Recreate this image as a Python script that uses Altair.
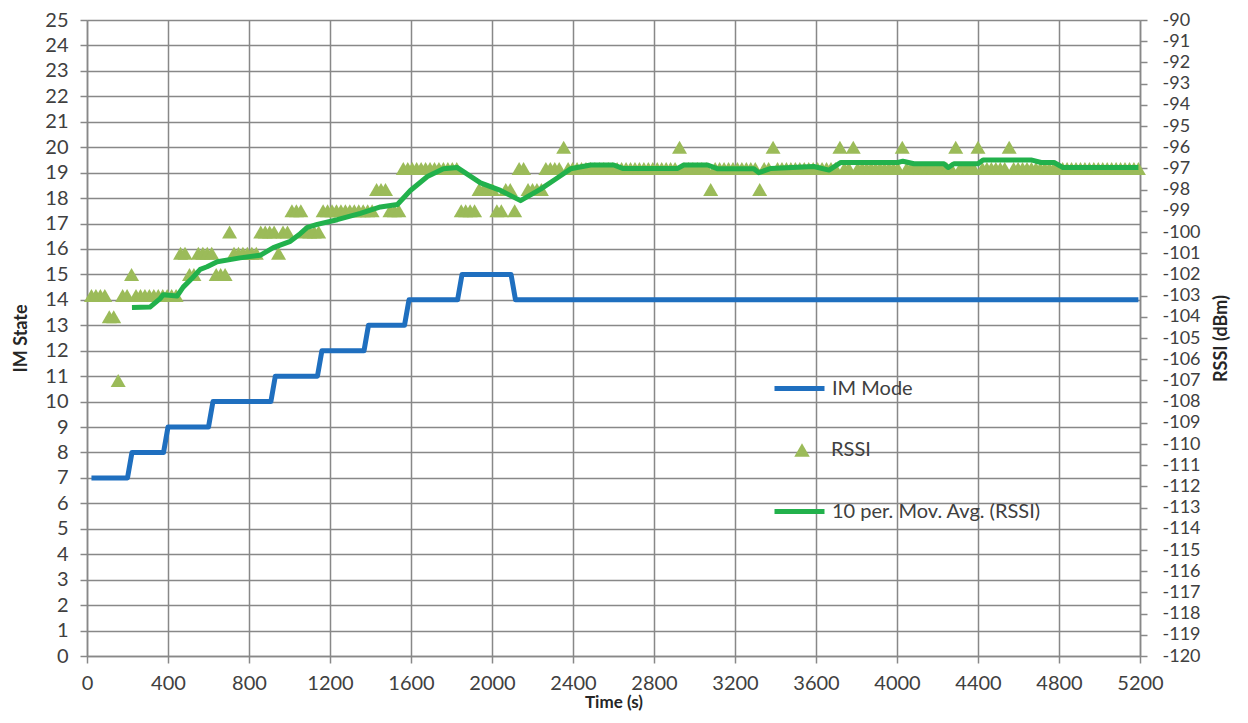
import altair as alt
import pandas as pd

# ---------------- data ----------------
sample_time_s = [
    22, 44, 66, 88, 110, 132, 154, 176, 198, 220,
    242, 264, 286, 308, 330, 352, 374, 396, 418, 440,
    462, 484, 506, 528, 550, 572, 594, 616, 638, 660,
    682, 704, 726, 748, 770, 792, 814, 836, 858, 880,
    902, 924, 946, 968, 990, 1012, 1034, 1056, 1078, 1100,
    1122, 1144, 1166, 1188, 1210, 1232, 1254, 1276, 1298, 1320,
    1342, 1364, 1386, 1408, 1430, 1452, 1474, 1496, 1518, 1540,
    1562, 1584, 1606, 1628, 1650, 1672, 1694, 1716, 1738, 1760,
    1782, 1804, 1826, 1848, 1870, 1892, 1914, 1936, 1958, 1980,
    2002, 2024, 2046, 2068, 2090, 2112, 2134, 2156, 2178, 2200,
    2222, 2244, 2266, 2288, 2310, 2332, 2354, 2376, 2398, 2420,
    2442, 2464, 2486, 2508, 2530, 2552, 2574, 2596, 2618, 2640,
    2662, 2684, 2706, 2728, 2750, 2772, 2794, 2816, 2838, 2860,
    2882, 2904, 2926, 2948, 2970, 2992, 3014, 3036, 3058, 3080,
    3102, 3124, 3146, 3168, 3190, 3212, 3234, 3256, 3278, 3300,
    3322, 3344, 3366, 3388, 3410, 3432, 3454, 3476, 3498, 3520,
    3542, 3564, 3586, 3608, 3630, 3652, 3674, 3696, 3718, 3740,
    3762, 3784, 3806, 3828, 3850, 3872, 3894, 3916, 3938, 3960,
    3982, 4004, 4026, 4048, 4070, 4092, 4114, 4136, 4158, 4180,
    4202, 4224, 4246, 4268, 4290, 4312, 4334, 4356, 4378, 4400,
    4422, 4444, 4466, 4488, 4510, 4532, 4554, 4576, 4598, 4620,
    4642, 4664, 4686, 4708, 4730, 4752, 4774, 4796, 4818, 4840,
    4862, 4884, 4906, 4928, 4950, 4972, 4994, 5016, 5038, 5060,
    5082, 5104, 5126, 5148, 5170, 5192,
]

rssi_dbm = [
    -103, -103, -103, -103, -104, -104, -107, -103, -103, -102,
    -103, -103, -103, -103, -103, -103, -103, -103, -103, -103,
    -101, -101, -102, -102, -101, -101, -101, -101, -102, -102,
    -102, -100, -101, -101, -101, -101, -101, -101, -100, -100,
    -100, -100, -101, -100, -100, -99, -99, -99, -100, -100,
    -100, -100, -99, -99, -99, -99, -99, -99, -99, -99,
    -99, -99, -99, -99, -98, -98, -98, -99, -99, -99,
    -97, -97, -97, -97, -97, -97, -97, -97, -97, -97,
    -97, -97, -97, -99, -99, -99, -99, -98, -98, -98,
    -98, -99, -99, -98, -98, -99, -97, -97, -98, -98,
    -98, -98, -97, -97, -97, -97, -96, -97, -97, -97,
    -97, -97, -97, -97, -97, -97, -97, -97, -97, -97,
    -97, -97, -97, -97, -97, -97, -97, -97, -97, -97,
    -97, -97, -96, -97, -97, -97, -97, -97, -97, -98,
    -97, -97, -97, -97, -97, -97, -97, -97, -97, -97,
    -98, -97, -97, -96, -97, -97, -97, -97, -97, -97,
    -97, -97, -97, -97, -97, -97, -97, -97, -96, -97,
    -97, -96, -97, -97, -97, -97, -97, -97, -97, -97,
    -97, -97, -96, -97, -97, -97, -97, -97, -97, -97,
    -97, -97, -97, -97, -96, -97, -97, -97, -97, -96,
    -97, -97, -97, -97, -97, -97, -96, -97, -97, -97,
    -97, -97, -97, -97, -97, -97, -97, -97, -97, -97,
    -97, -97, -97, -97, -97, -97, -97, -97, -97, -97,
    -97, -97, -97, -97, -97, -97,
]

im_time_s = [22, 200, 222, 378, 400, 600, 622, 908, 930, 1138, 1160, 1368,
             1390, 1568, 1590, 1830, 1852, 2094, 2116, 5192]
im_state = [7, 7, 8, 8, 9, 9, 10, 10, 11, 11, 12, 12,
            13, 13, 14, 14, 15, 15, 14, 14]

ma_time_s = [222, 311, 361, 376, 445, 475, 519, 559, 593, 643,
             756, 855, 920, 1004, 1053, 1088, 1137, 1236, 1350, 1449,
             1533, 1597, 1681, 1760, 1829, 1943, 2042, 2141, 2240, 2324,
             2388, 2487, 2601, 2645, 2917, 2947, 3065, 3115, 3293, 3317,
             3377, 3589, 3664, 3723, 4005, 4029, 4084, 4232, 4252, 4281,
             4400, 4425, 4662, 4712, 4776, 4820, 5192]
ma_dbm = [-103.56, -103.54, -103.14, -102.96, -103.02, -102.6, -102.18, -101.76, -101.64, -101.4,
          -101.22, -101.1, -100.74, -100.44, -100.08, -99.78, -99.64, -99.42, -99.12, -98.82,
          -98.7, -98.04, -97.38, -97.02, -96.96, -97.68, -98.04, -98.52, -97.98, -97.44,
          -97.02, -96.84, -96.84, -97.0, -97.0, -96.84, -96.84, -97.02, -97.02, -97.2,
          -97.0, -96.91, -97.08, -96.72, -96.72, -96.66, -96.78, -96.78, -96.96, -96.78,
          -96.78, -96.6, -96.6, -96.72, -96.72, -96.96, -96.96]

time_ticks = [0, 400, 800, 1200, 1600, 2000, 2400, 2800, 3200, 3600, 4000, 4400, 4800, 5200]
state_ticks = [0, 1, 2, 3, 4, 5, 6, 7, 8, 9, 10, 11, 12, 13, 14, 15, 16, 17, 18, 19, 20,
               21, 22, 23, 24, 25]
rssi_ticks = [-120, -119, -118, -117, -116, -115, -114, -113, -112, -111, -110, -109,
              -108, -107, -106, -105, -104, -103, -102, -101, -100, -99, -98, -97, -96,
              -95, -94, -93, -92, -91, -90]

series_names = ["IM Mode", "RSSI", "10 per. Mov. Avg. (RSSI)"]
series_colors = ["#1F6FBF", "#9BBB59", "#22B14C"]

# ---------------- tables ----------------
im_df = pd.DataFrame({"time": im_time_s, "state": im_state, "series": series_names[0]})
rssi_df = pd.DataFrame({"time": sample_time_s, "rssi": rssi_dbm, "series": series_names[1]})
ma_df = pd.DataFrame({"time": ma_time_s, "rssi": ma_dbm, "series": series_names[2]})

FONT = "Lato"
LABEL_C = "#404040"
TITLE_C = "#262626"
GRID_C = "#888888"
LBL = 20
RLBL = 18
TTL = 18


def line_legend(y):
    return alt.Legend(title=None, orient="none", legendX=685, legendY=y,
                      symbolType="stroke", symbolSize=2500, symbolStrokeWidth=5,
                      labelFont=FONT, labelFontSize=LBL, labelColor=LABEL_C,
                      labelOffset=5, padding=0, labelLimit=400)


x_enc = alt.X("time:Q",
              scale=alt.Scale(domain=[0, 5200], nice=False, zero=False),
              axis=alt.Axis(values=time_ticks, format="d", title="Time (s)", grid=True,
                            gridColor=GRID_C, gridWidth=1.5,
                            domainColor=GRID_C, domainWidth=1.5,
                            tickColor=GRID_C, tickWidth=1.5, tickSize=7,
                            labelFont=FONT, labelFontSize=LBL, labelColor=LABEL_C,
                            labelPadding=10, labelFlush=False, labelOverlap=False,
                            titleFont=FONT, titleFontSize=17, titleFontWeight="bold",
                            titleColor=TITLE_C, titlePadding=1))

right_axis = alt.Axis(orient="right", values=rssi_ticks, title="RSSI (dBm)", grid=False,
                      labelExpr="'' + datum.value",
                      domainColor=GRID_C, domainWidth=1.5,
                      tickColor=GRID_C, tickWidth=1.5, tickSize=7,
                      labelFont=FONT, labelFontSize=RLBL, labelColor=LABEL_C,
                      labelPadding=15, labelFlush=False, labelOverlap=False,
                      titleFont=FONT, titleFontSize=TTL, titleFontWeight="bold",
                      titleColor=TITLE_C, titlePadding=12, titleAngle=270,
                      titleBaseline="top")
right_scale = alt.Scale(domain=[-120, -90], nice=False, zero=False)

im_line = alt.Chart(im_df).mark_line(strokeWidth=5, strokeJoin="round").encode(
    x=x_enc,
    y=alt.Y("state:Q", scale=alt.Scale(domain=[0, 25], nice=False),
            axis=alt.Axis(values=state_ticks, title="IM State", grid=True,
                          gridColor=GRID_C, gridWidth=1.5,
                          domainColor=GRID_C, domainWidth=1.5,
                          tickColor=GRID_C, tickWidth=1.5, tickSize=7,
                          labelFont=FONT, labelFontSize=LBL, labelColor=LABEL_C,
                          labelPadding=12, labelFlush=False, labelOverlap=False,
                          titleFont=FONT, titleFontSize=TTL, titleFontWeight="bold",
                          titleColor=TITLE_C, titlePadding=14)),
    color=alt.Color("series:N",
                    scale=alt.Scale(domain=[series_names[0]], range=[series_colors[0]]),
                    legend=line_legend(341)),
    order=alt.Order("time:Q"),
)

rssi_pts = alt.Chart(rssi_df).mark_point(shape="triangle-up", filled=True, size=225,
                                          opacity=1, strokeWidth=0).encode(
    x=x_enc,
    y=alt.Y("rssi:Q", scale=right_scale, axis=right_axis),
    fill=alt.Fill("series:N",
                  scale=alt.Scale(domain=[series_names[1]], range=[series_colors[1]]),
                  legend=alt.Legend(title=None, orient="none", legendX=705, legendY=420,
                                    symbolType="triangle-up", symbolSize=240,
                                    symbolStrokeWidth=0, symbolOpacity=1,
                                    labelFont=FONT, labelFontSize=LBL, labelColor=LABEL_C,
                                    labelOffset=19, padding=0, labelLimit=400)),
)

ma_line = alt.Chart(ma_df).mark_line(strokeWidth=5, strokeJoin="round").encode(
    x=x_enc,
    y=alt.Y("rssi:Q", scale=right_scale, axis=right_axis),
    stroke=alt.Stroke("series:N",
                      scale=alt.Scale(domain=[series_names[2]], range=[series_colors[2]]),
                      legend=line_legend(464)),
    order=alt.Order("time:Q"),
)

right = alt.layer(rssi_pts, ma_line)

chart = alt.layer(im_line, right).resolve_scale(y="independent").properties(
    width=1053, height=636,
    autosize=alt.AutoSizeParams(type="none"),
    padding={"left": 79, "top": 12, "right": 100, "bottom": 59},
    background="white",
).configure_view(strokeWidth=0)

chart.save("out.html", embed_options={"renderer": "svg", "actions": False})
